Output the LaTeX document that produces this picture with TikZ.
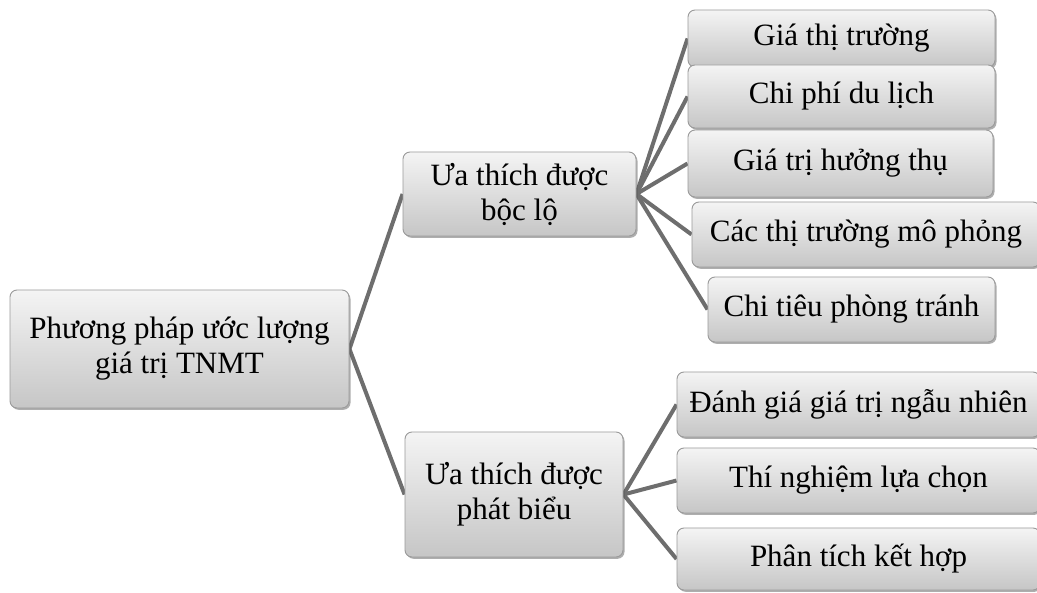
\documentclass[tikz,border=0pt]{standalone}
\usepackage{fontspec}
\setmainfont{Liberation Serif}
\usetikzlibrary{shadows,backgrounds}
\definecolor{linegray}{HTML}{6E6E6E}
\definecolor{edgegray}{HTML}{9A9A9A}
\definecolor{toplight}{HTML}{F4F4F4}
\definecolor{botdark}{HTML}{C6C6C6}
\tikzset{
  box/.style={draw=edgegray, line width=0.9pt, rounded corners=7pt,
    top color=toplight, bottom color=botdark, align=center,
    inner sep=0pt, font=\fontsize{31}{35}\selectfont,
    drop shadow={shadow xshift=1.5pt, shadow yshift=-1.8pt, opacity=0.45, fill=black!70}},
  conn/.style={draw=linegray, line width=4pt}
}
\begin{document}
\begin{tikzpicture}[x=1pt,y=-1pt]
\useasboundingbox (0,0) rectangle (1037,593);
\node[box, minimum width=339pt, minimum height=118pt] (root) at (179.5,349) {Phương pháp ước lượng\\giá trị TNMT};
\node[box, minimum width=233pt, minimum height=84pt] (mid1) at (519.5,194) {Ưa thích được\\bộc lộ};
\node[box, minimum width=218pt, minimum height=125pt] (mid2) at (514,494.5) {Ưa thích được\\phát biểu};
\node[box, minimum width=307pt, minimum height=57pt] (l1) at (841.5,38.5) {Giá thị trường};
\node[box, minimum width=307pt, minimum height=63pt] (l2) at (841.5,96.5) {Chi phí du lịch};
\node[box, minimum width=305pt, minimum height=67pt] (l3) at (840.5,163.5) {Giá trị hưởng thụ};
\node[box, minimum width=348pt, minimum height=65pt] (l4) at (866,234.5) {Các thị trường mô phỏng};
\node[box, minimum width=287pt, minimum height=65pt] (l5) at (851.5,309.5) {Chi tiêu phòng tránh};
\node[box, minimum width=363pt, minimum height=65pt] (l6) at (858.5,404.5) {Đánh giá giá trị ngẫu nhiên};
\node[box, minimum width=363pt, minimum height=65pt] (l7) at (858.5,480.5) {Thí nghiệm lựa chọn};
\node[box, minimum width=363pt, minimum height=62pt] (l8) at (858.5,559) {Phân tích kết hợp};
\begin{scope}[on background layer]
\draw[conn] (root.east) -- (mid1.west);
\draw[conn] (root.east) -- (mid2.west);
\foreach \t in {l1,l2,l3,l4,l5} \draw[conn] (mid1.east) -- (\t.west);
\foreach \t in {l6,l7,l8} \draw[conn] (mid2.east) -- (\t.west);
\end{scope}
\end{tikzpicture}
\end{document}
